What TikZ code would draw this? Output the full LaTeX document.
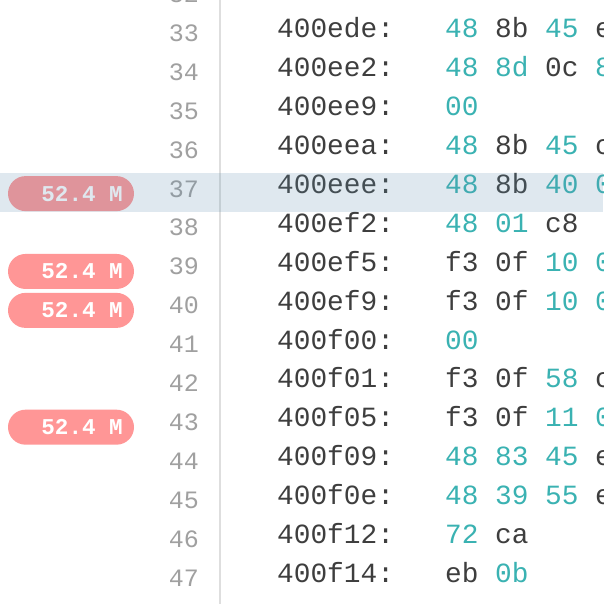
\documentclass[tikz,border=0pt]{standalone}
\usepackage{fontspec}
\newfontfamily\codefont{Liberation Mono}
\definecolor{dk}{RGB}{62,62,62}
\definecolor{tl}{RGB}{58,178,178}
\definecolor{lngray}{RGB}{160,160,160}
\definecolor{sepgray}{RGB}{222,222,222}
\definecolor{pinkbadge}{RGB}{255,150,150}
\definecolor{bandblue}{RGB}{95,143,175}
\tikzset{
  code/.style={anchor=base west, inner sep=0pt, font=\codefont\fontsize{27.8}{30}\selectfont},
  lnum/.style={anchor=base east, inner sep=0pt, text=lngray, font=\codefont\fontsize{25}{28}\selectfont},
  badge/.style={fill=pinkbadge, draw=none, rounded corners=17.5pt, minimum width=126pt, minimum height=35pt, inner sep=0pt},
  badgetext/.style={anchor=base east, inner sep=0pt, text=white, font=\codefont\bfseries\fontsize{22.6}{25}\selectfont},
  sepline/.style={draw=sepgray, line width=2pt},
  band/.style={fill=bandblue, fill opacity=0.2}
}
\newcommand\CodeRow[3]{%
  \pgfmathsetmacro\ry{193.3+(#1-37)*38.93}%
  \node[code,text=dk] (ad#1) at (277,\ry) {#2};%
  \foreach \b/\c [count=\k from 0] in {#3} {\node[code,text=\c] (by#1-\k) at ({445+50*\k},\ry) {\b};}%
}
\newcommand\Badge[1]{%
  \pgfmathsetmacro\byy{193.6+(#1-37)*38.93}%
  \node[badge] (bd#1) at (71,\byy) {};%
  \node[badgetext] (bt#1) at (123,\byy+7.5) {52.4 M};%
}
\begin{document}
\begin{tikzpicture}[x=1pt,y=-1pt]
\useasboundingbox (0,0) rectangle (603,604);
\clip (0,0) rectangle (603,604);
\fill[white] (0,0) rectangle (603,604);
\coordinate (septop) at (220,0);
\coordinate (sepbot) at (220,604);
\draw[sepline] (septop) -- (sepbot);
\foreach \n in {32,...,47} {
  \node[lnum] (ln\n) at (199,{197+(\n-37)*38.93}) {\n};
}
\CodeRow{33}{400ede:}{48/tl,8b/dk,45/tl,e/dk}
\CodeRow{34}{400ee2:}{48/tl,8d/tl,0c/dk,8/tl}
\CodeRow{35}{400ee9:}{00/tl}
\CodeRow{36}{400eea:}{48/tl,8b/dk,45/tl,c/dk}
\CodeRow{37}{400eee:}{48/tl,8b/dk,40/tl,0/tl}
\CodeRow{38}{400ef2:}{48/tl,01/tl,c8/dk}
\CodeRow{39}{400ef5:}{f3/dk,0f/dk,10/tl,0/tl}
\CodeRow{40}{400ef9:}{f3/dk,0f/dk,10/tl,0/tl}
\CodeRow{41}{400f00:}{00/tl}
\CodeRow{42}{400f01:}{f3/dk,0f/dk,58/tl,c/dk}
\CodeRow{43}{400f05:}{f3/dk,0f/dk,11/tl,0/tl}
\CodeRow{44}{400f09:}{48/tl,83/tl,45/tl,e/dk}
\CodeRow{45}{400f0e:}{48/tl,39/tl,55/tl,e/dk}
\CodeRow{46}{400f12:}{72/tl,ca/dk}
\CodeRow{47}{400f14:}{eb/dk,0b/tl}
\Badge{37}
\Badge{39}
\Badge{40}
\Badge{43}
\fill[band] (0,173) rectangle (603,212);
\end{tikzpicture}
\end{document}
